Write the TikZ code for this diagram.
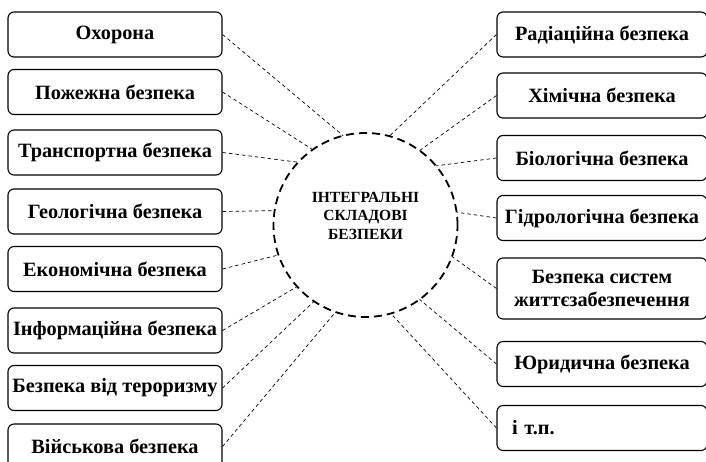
\documentclass[tikz,border=0pt]{standalone}
\usepackage{fontspec}
\setmainfont{Liberation Serif}
\begin{document}
\begin{tikzpicture}[x=1pt,y=-1pt,
  boxl/.style={draw, rounded corners=6pt, line width=1.1pt, minimum width=214pt, minimum height=45pt, inner sep=0pt, align=center, font=\fontsize{20.3}{23}\selectfont\bfseries},
  boxr/.style={boxl, minimum width=210pt},
  conn/.style={dashed, dash pattern=on 3.5pt off 3pt, line width=0.7pt},
  hub/.style={circle, draw, line width=1.8pt, dash pattern=on 8pt off 5pt, minimum size=184pt, inner sep=0pt, outer sep=0pt, align=center, font=\fontsize{15.5}{18.7}\selectfont\bfseries}]
\useasboundingbox (0,0) rectangle (706,461);
\clip (0,0) rectangle (706,461);
\node[hub] (c) at (365.5,225) {ІНТЕГРАЛЬНІ\\СКЛАДОВІ\\БЕЗПЕКИ\\\mbox{}};
% left
\node[boxl] (l1) at (115,34.5) {Охорона};
\node[boxl] (l2) at (115,92) {Пожежна безпека};
\node[boxl] (l3) at (115,152.5) {Транспортна безпека};
\node[boxl] (l4) at (115,211.5) {Геологічна безпека};
\node[boxl] (l5) at (115,269) {Економічна безпека};
\node[boxl] (l6) at (115,330.5) {Інформаційна безпека};
\node[boxl] (l7) at (115,388) {Безпека від тероризму};
\node[boxl] (l8) at (115,446.5) {Військова безпека};
% right
\node[boxr] (r1) at (602,34.5) {Радіаційна безпека};
\node[boxr] (r2) at (602,95.5) {Хімічна безпека};
\node[boxr] (r3) at (602,158) {Біологічна безпека};
\node[boxr] (r4) at (602,218) {Гідрологічна безпека};
\node[boxr, minimum height=61pt] (r5) at (602,288.5) {Безпека систем\\життєзабезпечення};
\node[boxr] (r6) at (602,364) {Юридична безпека};
\node[boxr, text width=180pt, inner xsep=15pt, align=left] (r7) at (602,428) {і т.п.};
% connectors
\draw[conn] (l1.east) -- (c.104);
\draw[conn] (l2.east) -- (c.125);
\draw[conn] (l3.east) -- (c.137);
\draw[conn] (l4.east) -- (c.171);
\draw[conn] (l5.east) -- (c.199);
\draw[conn] (l6.east) -- (c.222);
\draw[conn] (l7.east) -- (c.236);
\draw[conn] (l8.east) -- (c.251);
\draw[conn] (r1.west) -- (c.75);
\draw[conn] (r2.west) -- (c.54);
\draw[conn] (r3.west) -- (c.40);
\draw[conn] (r4.west) -- (c.8);
\draw[conn] (r5.west) -- (c.-20);
\draw[conn] (r6.west) -- (c.-54);
\draw[conn] (r7.west) -- (c.-74);
\end{tikzpicture}
\end{document}
